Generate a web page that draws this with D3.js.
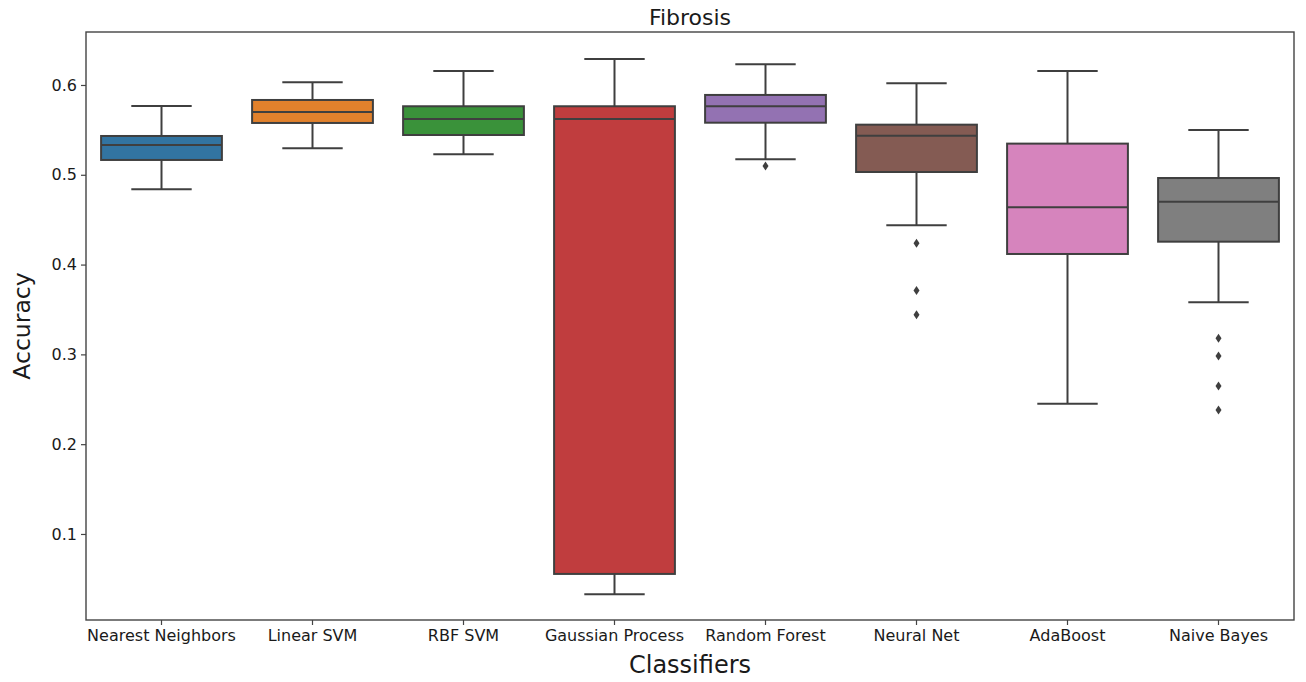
<!DOCTYPE html>
<html><head><meta charset="utf-8">
<script src="https://cdn.jsdelivr.net/npm/d3@7"></script>
<style>body{margin:0;background:#fff;} text{font-family:"DejaVu Sans",sans-serif;fill:#1a1a1a;}</style>
</head><body><svg id="c" width="1306" height="682"></svg>
<script>
const categories = ["Nearest Neighbors","Linear SVM","RBF SVM","Gaussian Process","Random Forest","Neural Net","AdaBoost","Naive Bayes"];
const whiskerLow = [0.484,0.5295,0.5228,0.0328,0.5172,0.4438,0.2451,0.358];
const q1 =         [0.5165,0.5577,0.5443,0.0555,0.558,0.5031,0.4118,0.4255];
const median =     [0.5332,0.570,0.5621,0.5621,0.5763,0.5436,0.4638,0.470];
const q3 =         [0.5432,0.5833,0.5763,0.5763,0.5889,0.5558,0.5347,0.4964];
const whiskerHigh =[0.5766,0.603,0.6156,0.629,0.623,0.602,0.6156,0.5499];
const outliers = [[],[],[],[],[0.5098],[0.4237,0.371,0.3442],[],[0.3179,0.2982,0.2648,0.2381]];
const colors = ["#3274a1","#e1812c","#3a923a","#c03d3e","#9372b2","#845b53","#d684bd","#7f7f7f"];
const yTicks = [0.1,0.2,0.3,0.4,0.5,0.6];

const svg = d3.select("#c");
const L=86, R=1294, T=32, B=620;
const x = d3.scaleBand().domain(categories).range([L,R]).paddingInner(0).paddingOuter(0);
const y = d3.scaleLinear().domain([0.0042,0.659]).range([B,T]);
const lc = "#3f3f3f";
const bw = x.bandwidth()*0.8;

const g = svg.append("g");
categories.forEach((c,i)=>{
  const cx = x(c)+x.bandwidth()/2;
  g.append("line").attr("x1",cx).attr("x2",cx).attr("y1",y(q3[i])).attr("y2",y(whiskerHigh[i])).attr("stroke",lc).attr("stroke-width",2);
  g.append("line").attr("x1",cx).attr("x2",cx).attr("y1",y(q1[i])).attr("y2",y(whiskerLow[i])).attr("stroke",lc).attr("stroke-width",2);
  [whiskerHigh[i],whiskerLow[i]].forEach(v=>{
    g.append("line").attr("x1",cx-bw/4).attr("x2",cx+bw/4).attr("y1",y(v)).attr("y2",y(v)).attr("stroke",lc).attr("stroke-width",2);
  });
  g.append("rect").attr("x",cx-bw/2).attr("width",bw).attr("y",y(q3[i])).attr("height",y(q1[i])-y(q3[i]))
    .attr("fill",colors[i]).attr("stroke",lc).attr("stroke-width",2);
  g.append("line").attr("x1",cx-bw/2).attr("x2",cx+bw/2).attr("y1",y(median[i])).attr("y2",y(median[i])).attr("stroke",lc).attr("stroke-width",2);
  outliers[i].forEach(v=>{
    g.append("path").attr("d",`M${cx},${y(v)-4.5}L${cx+3},${y(v)}L${cx},${y(v)+4.5}L${cx-3},${y(v)}Z`).attr("fill",lc);
  });
});

const yAxis = d3.axisLeft(y).tickValues(yTicks).tickFormat(d3.format(".1f")).tickSize(5).tickPadding(4);
const ya = svg.append("g").attr("transform",`translate(${L},0)`).call(yAxis);
ya.select(".domain").remove();
ya.selectAll("line").attr("stroke","#444").attr("stroke-width",1.2);
ya.selectAll("text").attr("font-size",16).attr("fill","#1a1a1a").style("font-family","DejaVu Sans");
const xAxis = d3.axisBottom(x).tickSize(5).tickPadding(5);
const xa = svg.append("g").attr("transform",`translate(0,${B})`).call(xAxis);
xa.select(".domain").remove();
xa.selectAll("line").attr("stroke","#444").attr("stroke-width",1.2);
xa.selectAll("text").attr("font-size",16).attr("fill","#1a1a1a").style("font-family","DejaVu Sans");
svg.append("rect").attr("x",L).attr("y",T).attr("width",R-L).attr("height",B-T).attr("fill","none").attr("stroke","#444").attr("stroke-width",1.4);

svg.append("text").attr("x",(L+R)/2).attr("y",25).attr("text-anchor","middle").attr("font-size",22).text("Fibrosis");
svg.append("text").attr("x",(L+R)/2).attr("y",673).attr("text-anchor","middle").attr("font-size",24).text("Classifiers");
svg.append("text").attr("transform",`translate(30,${(T+B)/2}) rotate(-90)`).attr("text-anchor","middle").attr("font-size",23.5).text("Accuracy");
</script></body></html>
